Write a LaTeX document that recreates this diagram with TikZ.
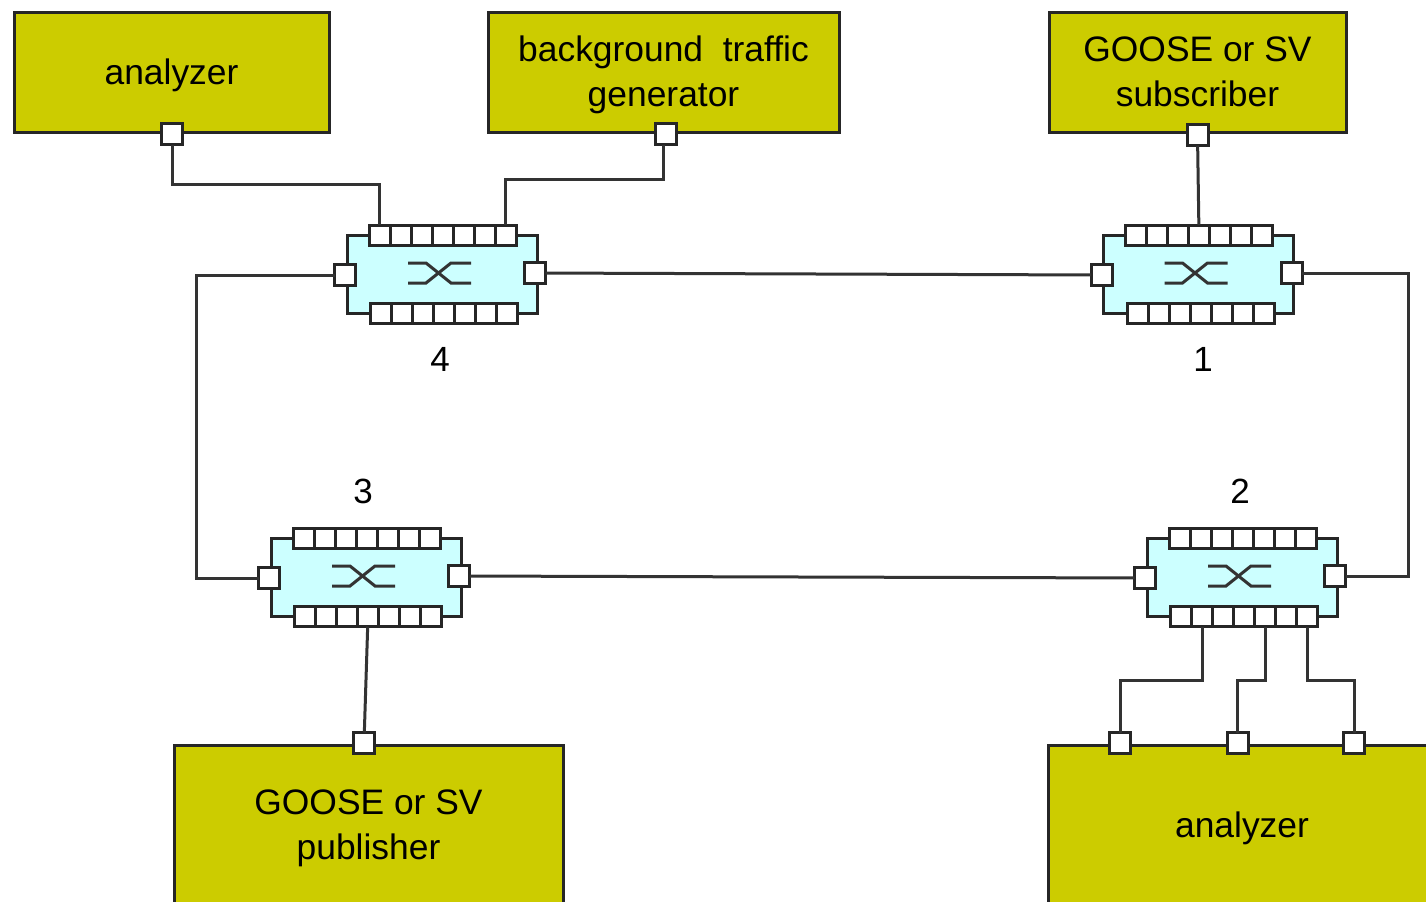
\documentclass[tikz,border=0pt]{standalone}
\usepackage{fontspec}
\setmainfont{Liberation Sans}
\definecolor{boxolive}{RGB}{204,204,0}
\definecolor{swcyan}{RGB}{204,255,255}
\newcommand{\devlabel}[1]{\raisebox{-1.5pt}[\height][\depth]{\begin{tabular}{@{}c@{}}#1\end{tabular}}}
\tikzset{
  device/.style={draw=black!85,line width=1.5pt,fill=boxolive,inner sep=0pt,
    font=\fontsize{17.7}{22.5}\selectfont},
  swbody/.style={draw=black!85,line width=1.5pt,fill=swcyan,minimum width=95pt,minimum height=39pt,inner sep=0pt},
  port/.style={draw=black!85,line width=1.5pt,fill=white,minimum width=10.5pt,minimum height=10pt,inner sep=0pt,outer sep=0pt},
  sideport/.style={port,minimum height=10.5pt},
  wire/.style={draw=black!80,line width=1.5pt},
  numlabel/.style={font=\fontsize{17.5}{21}\selectfont,inner sep=0pt},
}
\begin{document}
\begin{tikzpicture}[x=0.5pt,y=-0.5pt]
  \useasboundingbox (0,0) rectangle (1426,901);
  % end devices
  \node[device,minimum width=157.5pt,minimum height=60pt] (analyzerA) at (171.5,72) {\devlabel{analyzer}};
  \node[device,minimum width=175.5pt,minimum height=60pt] (generator) at (663.5,72) {\devlabel{background~~traffic\\generator}};
  \node[device,minimum width=148.5pt,minimum height=60pt] (subscriber) at (1197.5,72) {\devlabel{GOOSE or SV\\subscriber}};
  \node[device,minimum width=194.5pt,minimum height=80pt] (publisher) at (368.5,825) {\devlabel{GOOSE or SV\\publisher}};
  \node[device,minimum width=194pt,minimum height=80pt] (analyzerB) at (1242,825) {\devlabel{analyzer}};
  % switches
  \foreach \n/\dx/\dy in {4/0/0,1/756.5/0,3/-76/303,2/800/303}{
    \begin{scope}[shift={(\dx,\dy)}]
      \node[swbody] (sw\n) at (442,274) {};
      \foreach \k in {1,...,7}{
        \node[port] (sw\n-top\k) at ({358.5+21*\k},235) {};
        \node[port] (sw\n-bot\k) at ({360+21*\k},313.5) {};
      }
      \node[sideport] (sw\n-left) at (345,275) {};
      \node[sideport] (sw\n-right) at (535,273) {};
      \draw[wire] (408,263)--(426,263)--(451,283)--(471,283);
      \draw[wire] (408,283)--(426,283)--(451,263)--(471,263);
    \end{scope}
  }
  \node[numlabel] (num4) at (440,359) {4};
  \node[numlabel] (num1) at (1203,359) {1};
  \node[numlabel] (num3) at (363,491) {3};
  \node[numlabel] (num2) at (1240,491) {2};
  % ports on the devices
  \node[sideport] (analyzerA-port) at (172,134) {};
  \node[sideport] (generator-port) at (665.5,134) {};
  \node[sideport] (subscriber-port) at (1197.5,135) {};
  \node[sideport] (publisher-port) at (364,743) {};
  \node[sideport] (analyzerB-port1) at (1120,743) {};
  \node[sideport] (analyzerB-port2) at (1237.5,743) {};
  \node[sideport] (analyzerB-port3) at (1354,743) {};
  % bends
  \coordinate (kneeA) at (379.5,184);
  \coordinate (kneeB) at (505.5,179);
  \coordinate (kneeC) at (1120,680);
  \coordinate (kneeD) at (1237.5,680);
  \coordinate (kneeE) at (1354,680);
  \coordinate (ringW) at (196,420);
  \coordinate (ringE) at (1408,420);
  % connections
  \draw[wire] (analyzerA-port) |- (kneeA) -- (sw4-top1);
  \draw[wire] ([xshift=-1pt]generator-port.south) |- (kneeB) -- (sw4-top7);
  \draw[wire] (subscriber-port) -- (sw1-top4);
  \draw[wire] (sw4-right) -- (sw1-left);
  \draw[wire] (sw3-right) -- (sw2-left);
  \draw[wire] (sw4-left) -| (ringW) |- (sw3-left);
  \draw[wire] (sw1-right) -| (ringE) |- (sw2-right);
  \draw[wire] (sw3-bot4) -- (publisher-port);
  \draw[wire] (sw2-bot2) |- (kneeC) -- (analyzerB-port1);
  \draw[wire] (sw2-bot5) |- (kneeD) -- (analyzerB-port2);
  \draw[wire] (sw2-bot7) |- (kneeE) -- (analyzerB-port3);
\end{tikzpicture}
\end{document}
